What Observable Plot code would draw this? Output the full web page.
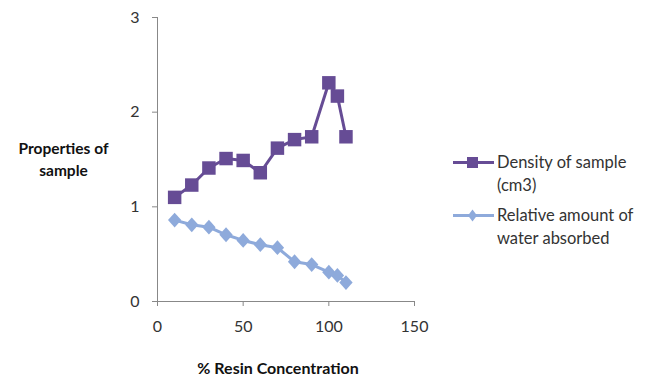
<!DOCTYPE html>
<html>
<head>
<meta charset="utf-8">
<script src="https://cdn.jsdelivr.net/npm/d3@7"></script>
<script src="https://cdn.jsdelivr.net/npm/@observablehq/plot@0.6"></script>
<style>
  html, body { margin: 0; padding: 0; background: #fff; }
  #wrap { position: relative; width: 655px; height: 375px; font-family: Lato, "Open Sans", sans-serif; }
  #ytitle { position: absolute; left: 0; width: 127px; top: 137px; text-align: center; font-weight: bold; font-size: 15.5px; line-height: 22px; color: #111; }
  .leg { position: absolute; left: 452px; font-size: 16.5px; line-height: 23px; color: #333; }
  .leg svg { position: absolute; left: 0; }
  .leg span { position: absolute; left: 45px; white-space: nowrap; }
</style>
</head>
<body>
<div id="wrap">
  <div id="chart"></div>
  <div id="ytitle">Properties of<br>sample</div>
  <div id="legend"></div>
</div>
<script>
const concentration = [10, 20, 30, 40, 50, 60, 70, 80, 90, 100, 105, 110];
const density = [1.10, 1.23, 1.41, 1.51, 1.49, 1.36, 1.62, 1.71, 1.74, 2.31, 2.17, 1.74];
const waterAbsorbed = [0.86, 0.81, 0.785, 0.705, 0.645, 0.60, 0.568, 0.42, 0.39, 0.31, 0.275, 0.20];
const seriesNames = ["Density of sample (cm3)", "Relative amount of water absorbed"];
const xTicks = [0, 50, 100, 150];
const yTicks = [0, 1, 2, 3];

const purple = "#664c95";
const blue = "#8eaadb";

const diamond = {
  draw(context, size) {
    const h = Math.sqrt(size / 2);
    context.moveTo(0, -h);
    context.lineTo(h * 0.9, 0);
    context.lineTo(0, h);
    context.lineTo(-h * 0.9, 0);
    context.closePath();
  }
};

const rows = concentration.map((c, i) => ({x: c, y: density[i], s: seriesNames[0]}));
const rowsW = concentration.map((c, i) => ({x: c, y: waterAbsorbed[i], s: seriesNames[1]}));

const chart = Plot.plot({
  width: 655,
  height: 375,
  marginLeft: 157,
  marginRight: 241,
  marginTop: 17,
  marginBottom: 74,
  style: {fontFamily: "Lato, 'Open Sans', sans-serif", fontSize: "16px", color: "#222", background: "#fff"},
  x: {domain: [0, 150]},
  y: {domain: [0, 3]},
  marks: [
    Plot.axisY({ticks: yTicks, tickFormat: d3.format("d"), tickSize: 5, tickPadding: 13, label: null, stroke: "#888", fill: "#333"}),
    Plot.axisX({ticks: xTicks, tickFormat: d3.format("d"), tickSize: 5, tickPadding: 14, label: "% Resin Concentration", labelAnchor: "center", labelOffset: 72, labelArrow: "none", stroke: "#888", fill: "#333"}),
    Plot.ruleX([0], {stroke: "#888"}),
    Plot.ruleY([0], {stroke: "#888"}),
    Plot.line(rowsW, {x: "x", y: "y", stroke: blue, strokeWidth: 3}),
    Plot.dot(rowsW, {x: "x", y: "y", symbol: diamond, r: 5.9, fill: blue, stroke: "none"}),
    Plot.line(rows, {x: "x", y: "y", stroke: purple, strokeWidth: 3}),
    Plot.dot(rows, {x: "x", y: "y", symbol: "square", r: 7.6, fill: purple, stroke: "none"})
  ]
});
document.getElementById("chart").appendChild(chart);
// bold axis label, nudged left as in the reference
d3.select(chart).selectAll("[aria-label='x-axis label'] text")
  .style("font-weight", "bold").style("font-size", "16px").style("fill", "#111")
  .attr("dx", -8);

// legend
const legend = document.getElementById("legend");
const legItems = [
  {lines: ["Density of sample", "(cm3)"], color: purple, sym: "square", top: 151},
  {lines: ["Relative amount of", "water absorbed"], color: blue, sym: "diamond", top: 204}
];
legItems.forEach(it => {
  const d = document.createElement("div");
  d.className = "leg";
  d.style.top = it.top + "px";
  const marker = it.sym === "square"
    ? `<rect x="15" y="6" width="11" height="11" fill="${it.color}"/>`
    : `<path d="M20.5,5.5 L25,11.5 L20.5,17.5 L16,11.5 Z" fill="${it.color}"/>`;
  d.innerHTML = `<svg width="44" height="23" style="top:0"><line x1="1" x2="42" y1="11.5" y2="11.5" stroke="${it.color}" stroke-width="3"/>${marker}</svg>` +
    it.lines.map((l, i) => `<span style="top:${i * 23}px">${l}</span>`).join("");
  legend.appendChild(d);
});
</script>
</body>
</html>
